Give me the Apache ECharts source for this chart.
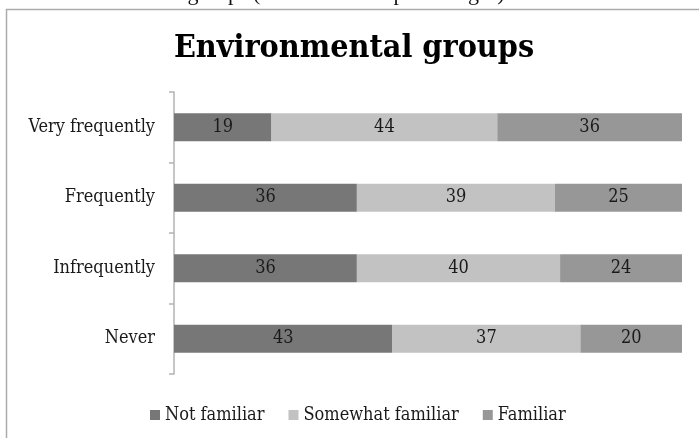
<!DOCTYPE html>
<html>
<head>
<meta charset="utf-8">
<script src="https://cdn.jsdelivr.net/npm/echarts@6/dist/echarts.min.js"></script>
<style>
  html, body { margin: 0; padding: 0; background: #fff; }
  #chart { width: 699px; height: 438px; }
</style>
</head>
<body>
<div id="chart"></div>
<script>
const categories = ["Very frequently", "Frequently", "Infrequently", "Never"];
const notFamiliar = [19, 36, 36, 43];
const somewhatFamiliar = [44, 39, 40, 37];
const familiar = [36, 25, 24, 20];
const seriesNames = ["Not familiar", "Somewhat familiar", "Familiar"];
const colors = ["#777777", "#c2c2c2", "#979797"];

const FONT = "'DejaVu Serif Condensed', 'Liberation Serif', serif";
const totals = categories.map((c, i) => notFamiliar[i] + somewhatFamiliar[i] + familiar[i]);

// 100% stacked: bars use shares of the row total, labels show the raw numbers
const makeSeries = (name, values, color) => ({
  name: name,
  type: "bar",
  stack: "all",
  barWidth: 28,
  itemStyle: { color: color },
  label: {
    show: true,
    position: "inside",
    color: "#1a1a1a",
    fontFamily: FONT,
    fontSize: 18,
    formatter: (p) => values[p.dataIndex],
  },
  data: values.map((v, i) => (v / totals[i]) * 100),
});

const myChart = echarts.init(document.getElementById("chart"));
myChart.setOption({
  animation: false,
  color: colors,
  grid: { left: 174, right: 17, top: 92, bottom: 64 },
  graphic: [
    {
      type: "rect",
      shape: { x: 6.5, y: 9.5, width: 800, height: 600 },
      style: { fill: "none", stroke: "#ababab", lineWidth: 1.5 },
    },
    {
      type: "text",
      style: {
        text: "environmental groups (numbers show percentages).",
        x: 55,
        y: -17,
        fill: "#111",
        font: "22px 'Liberation Serif'",
      },
    },
    {
      type: "text",
      style: {
        text: "Environmental groups",
        x: 354,
        y: 33,
        align: "center",
        fill: "#000",
        font: "bold 32px " + FONT,
      },
    },
  ],
  legend: {
    left: 145,
    top: 401,
    icon: "rect",
    itemWidth: 10,
    itemHeight: 10,
    itemGap: 24,
    textStyle: { fontFamily: FONT, fontSize: 18, color: "#1a1a1a" },
    data: seriesNames,
  },
  xAxis: {
    type: "value",
    min: 0,
    max: 100,
    show: false,
  },
  yAxis: {
    type: "category",
    inverse: true,
    data: categories,
    axisLine: { lineStyle: { color: "#b3b3b3", width: 1.5 } },
    axisTick: { show: true, length: 5, lineStyle: { color: "#b3b3b3", width: 1.5 } },
    axisLabel: { margin: 19, fontFamily: FONT, fontSize: 18, color: "#1a1a1a" },
  },
  series: [
    makeSeries(seriesNames[0], notFamiliar, colors[0]),
    makeSeries(seriesNames[1], somewhatFamiliar, colors[1]),
    makeSeries(seriesNames[2], familiar, colors[2]),
  ],
});
</script>
</body>
</html>
